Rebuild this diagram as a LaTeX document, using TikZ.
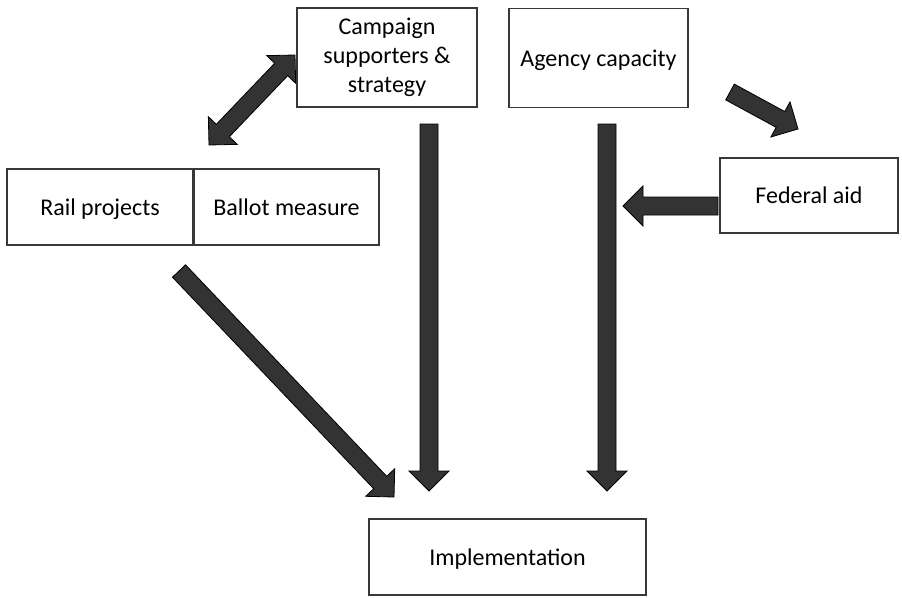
\documentclass[tikz,border=0pt]{standalone}
\usepackage{fontspec}
\setmainfont{Carlito}
\usetikzlibrary{calc}

\tikzset{
  box/.style={draw=black!78, line width=1.8pt, fill=white, align=center, inner sep=2pt},
  oneline/.style={text height=21pt, text depth=5pt},
  arrowbody/.style={fill=black!80, draw=black, line width=0.8pt, line join=miter},
}

% block arrow from #1 to #2
\newcommand{\blockarrow}[2]{%
  \filldraw[arrowbody] ($(#1)!9pt!90:(#2)$) -- ($(#2)!20pt!(#1)!9pt!90:(#2)$)
    -- ($(#2)!20pt!(#1)!20pt!90:(#2)$) -- (#2)
    -- ($(#2)!20pt!(#1)!20pt!-90:(#2)$) -- ($(#2)!20pt!(#1)!9pt!-90:(#2)$)
    -- ($(#1)!9pt!-90:(#2)$) -- cycle;
}
% block arrow with heads at both ends
\newcommand{\twowayarrow}[2]{%
  \filldraw[arrowbody] (#1) -- ($(#1)!20pt!(#2)!20pt!90:(#2)$) -- ($(#1)!20pt!(#2)!9pt!90:(#2)$)
    -- ($(#2)!20pt!(#1)!9pt!90:(#2)$) -- ($(#2)!20pt!(#1)!20pt!90:(#2)$) -- (#2)
    -- ($(#2)!20pt!(#1)!20pt!-90:(#2)$) -- ($(#2)!20pt!(#1)!9pt!-90:(#2)$)
    -- ($(#1)!20pt!(#2)!9pt!-90:(#2)$) -- ($(#1)!20pt!(#2)!20pt!-90:(#2)$) -- cycle;
}

\begin{document}
\begin{tikzpicture}[x=1pt, y=-1pt, font=\fontsize{24}{29}\selectfont]
\useasboundingbox (0,0) rectangle (902,597);

% boxes
\node[box, minimum width=180pt, minimum height=99pt] (camp) at (387,57.5) {Campaign\\supporters \&\\strategy};
\node[box, oneline, minimum width=179pt, minimum height=99pt] (agency) at (598.5,58) {Agency capacity};
\node[box, oneline, minimum width=186pt, minimum height=76pt] (rail) at (100,207) {Rail projects};
\node[box, oneline, minimum width=185pt, minimum height=76pt] (ballot) at (286.5,207) {Ballot measure};
\node[box, oneline, minimum width=178pt, minimum height=75pt] (federal) at (809,195.5) {Federal aid};
\node[box, oneline, minimum width=277pt, minimum height=76pt] (impl) at (507.5,557) {Implementation};

% arrow ends
\coordinate (railtip) at (209,145);
\coordinate (camptip) at (295,55);
\coordinate (campout) at (429,124);
\coordinate (campin) at (429,491);
\coordinate (agencyout) at (607,124);
\coordinate (agencyin) at (607,491);
\coordinate (railout) at (179,271);
\coordinate (railin) at (394,497);
\coordinate (fedtop) at (730,92);
\coordinate (fedtip) at (798,129);
\coordinate (fedout) at (718,206);
\coordinate (fedin) at (623,206);

% arrows
\twowayarrow{railtip}{camptip}
\blockarrow{campout}{campin}
\blockarrow{agencyout}{agencyin}
\blockarrow{railout}{railin}
\blockarrow{fedtop}{fedtip}
\blockarrow{fedout}{fedin}
\end{tikzpicture}
\end{document}
